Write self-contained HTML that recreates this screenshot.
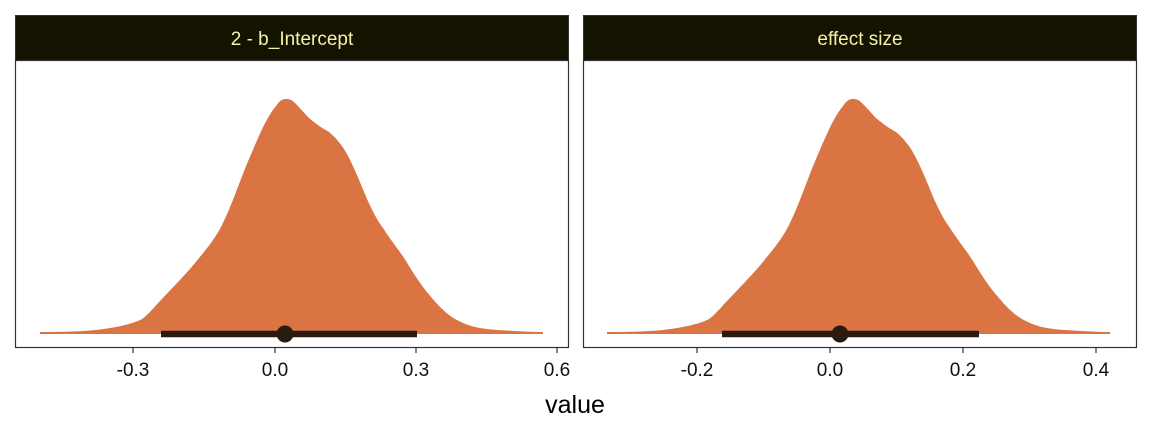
<!DOCTYPE html>
<html><head><meta charset="utf-8"><style>
html,body{margin:0;padding:0;background:#fff;}
svg{display:block;font-family:"Liberation Sans",sans-serif;}
</style></head><body>
<svg width="1152" height="432" viewBox="0 0 1152 432">
<defs>
<path id="d" d="M40,334 L40,332 C70,332 85,331 96,330 C120,327 135,323 142,319 C150,313 155,306 161,300 C175,285 190,270 199,258 C210,245 217,235 222,225 C232,205 240,180 249,159 C258,138 266,118 276,106 C280,100 283,99 286,99 C290,99 292,100 295,103 C302,110 308,118 314,122 C320,127 324,129 329,132 C336,138 340,143 344,149 C352,162 360,182 367,199 C373,212 377,220 383,228 C392,242 399,250 406,261 C415,276 423,288 432,298 C441,309 450,317 459,321 C470,327 482,329 498,330 C515,331 530,332 543,332 L543,334 Z"/>
</defs>
<rect x="15.5" y="15.5" width="553" height="45" fill="#131300" stroke="#333" stroke-width="1"/>
<text x="292" y="45" font-size="19" fill="#f6f1a8" text-anchor="middle">2 - b_Intercept</text>
<use href="#d" fill="#db7443"/>
<line x1="161" y1="334" x2="417" y2="334" stroke="#2a1a10" stroke-width="6.5"/>
<circle cx="285" cy="334" r="8.5" fill="#2a1a10"/>
<rect x="15.5" y="60.5" width="553" height="287" fill="none" stroke="#333" stroke-width="1.2"/>
<g stroke="#333" stroke-width="1.2">
<line x1="133" y1="348" x2="133" y2="353"/><line x1="275" y1="348" x2="275" y2="353"/><line x1="416" y1="348" x2="416" y2="353"/><line x1="557" y1="348" x2="557" y2="353"/>
</g>
<g font-size="19" fill="#111" text-anchor="middle">
<text x="133" y="376">-0.3</text><text x="275" y="376">0.0</text><text x="416" y="376">0.3</text><text x="557" y="376">0.6</text>
</g>
<rect x="583.5" y="15.5" width="553" height="45" fill="#131300" stroke="#333" stroke-width="1"/>
<text x="860" y="45" font-size="19" fill="#f6f1a8" text-anchor="middle">effect size</text>
<use href="#d" fill="#db7443" transform="translate(567,0)"/>
<line x1="722" y1="334" x2="979" y2="334" stroke="#2a1a10" stroke-width="6.5"/>
<circle cx="840" cy="334" r="8.5" fill="#2a1a10"/>
<rect x="583.5" y="60.5" width="553" height="287" fill="none" stroke="#333" stroke-width="1.2"/>
<g stroke="#333" stroke-width="1.2">
<line x1="697" y1="348" x2="697" y2="353"/><line x1="830" y1="348" x2="830" y2="353"/><line x1="963" y1="348" x2="963" y2="353"/><line x1="1096" y1="348" x2="1096" y2="353"/>
</g>
<g font-size="19" fill="#111" text-anchor="middle">
<text x="697" y="376">-0.2</text><text x="830" y="376">0.0</text><text x="963" y="376">0.2</text><text x="1096" y="376">0.4</text>
</g>
<text x="575" y="413" font-size="25" fill="#000" text-anchor="middle">value</text>
</svg>
</body></html>
